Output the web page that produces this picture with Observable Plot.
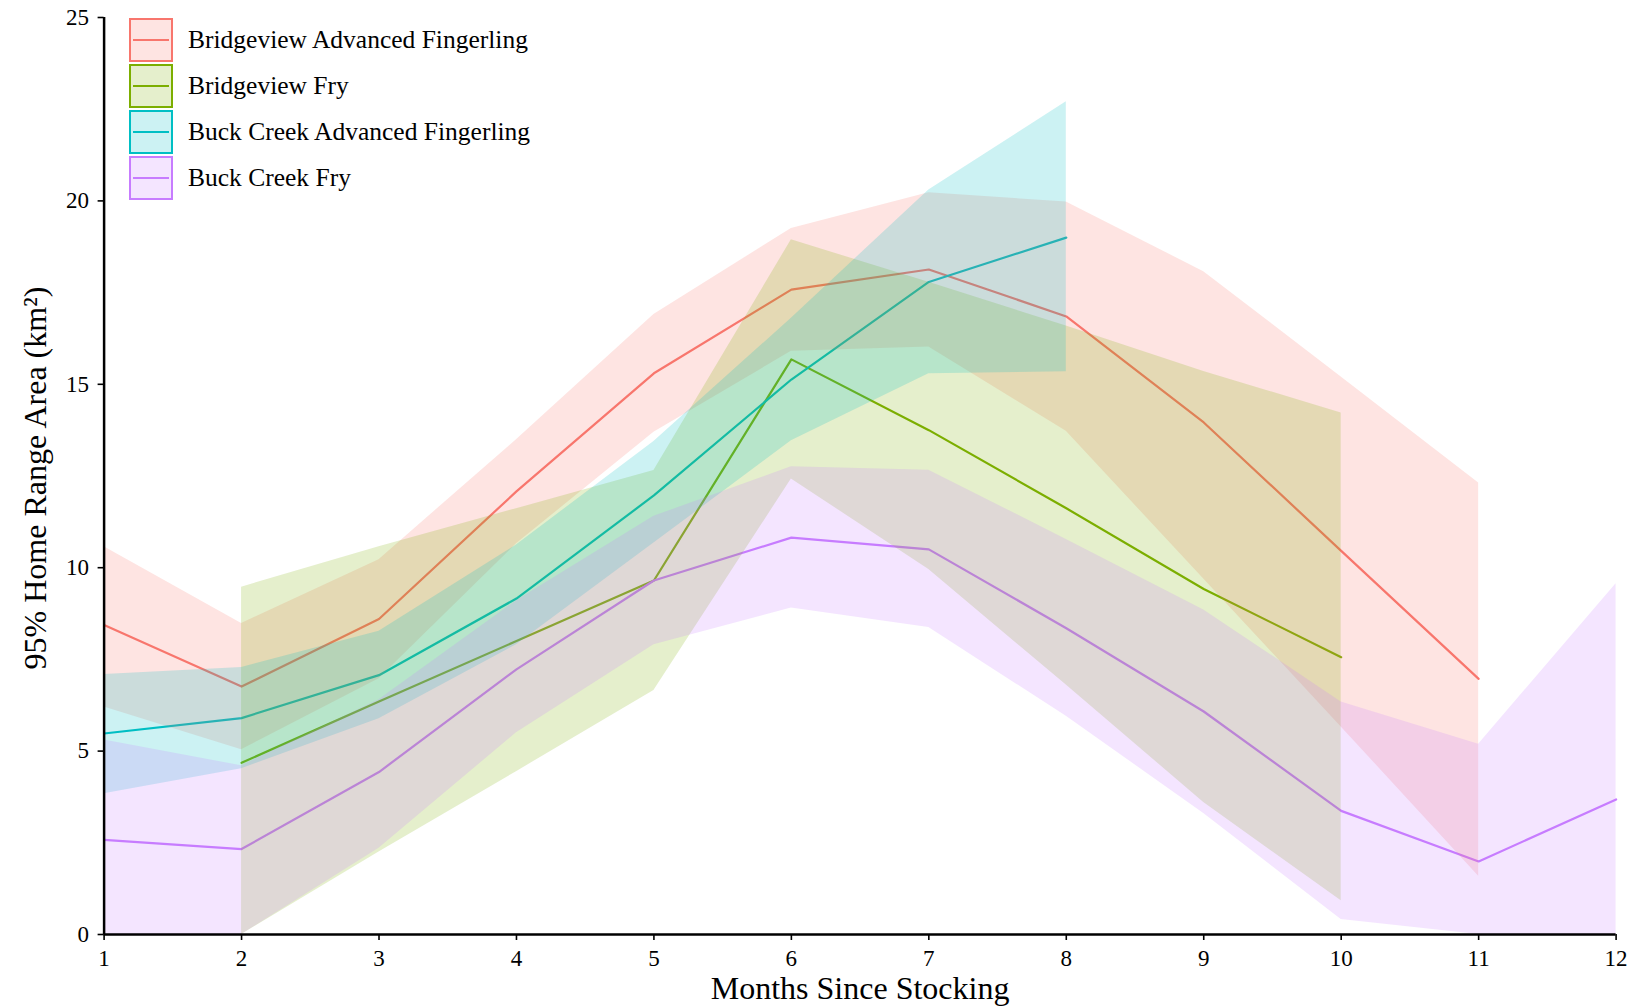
<!DOCTYPE html>
<html><head><meta charset="utf-8">
<script src="https://cdn.jsdelivr.net/npm/d3@7"></script>
<script src="https://cdn.jsdelivr.net/npm/@observablehq/plot@0.6"></script>
<style>
html,body{margin:0;padding:0;background:#fff;overflow:hidden}
#wrap{position:relative;width:1634px;height:1008px}
.legend{position:absolute;left:129px;top:18px;font-family:'Liberation Serif','Times New Roman',serif;font-size:25.5px;color:#000}
.item{display:flex;align-items:center;height:44px;margin-bottom:2px}
.key{position:relative;width:40px;height:40px;border:2px solid;box-sizing:content-box;flex:none}
.key .ln{position:absolute;left:2px;right:2px;top:19px;height:2px}
.lab{margin-left:15px;white-space:nowrap}
</style></head>
<body><div id="wrap"><div id="chart"></div><div class="legend" id="legend"></div></div>
<script>
const months = [1,2,3,4,5,6,7,8,9,10,11,12];
const seriesNames = ["Bridgeview Advanced Fingerling","Bridgeview Fry","Buck Creek Advanced Fingerling","Buck Creek Fry"];
const seriesColors = ["#F8766D","#7CAE00","#00BFC4","#C77CFF"];
const yTicks = [0,5,10,15,20,25];
const xTitle = "Months Since Stocking";
const yTitle = "95% Home Range Area (km²)";

// Bridgeview Advanced Fingerling
const bafMean = [8.44,6.76,8.6,12.08,15.3,17.58,18.13,16.85,13.96,10.46,6.97,null];
const bafLow  = [6.2,5.04,6.97,10.65,13.69,15.9,16.02,13.72,9.69,5.66,1.59,null];
const bafHigh = [10.57,8.48,10.22,13.49,16.9,19.25,20.22,19.97,18.07,15.2,12.31,null];
// Bridgeview Fry
const bfMean = [null,4.68,6.35,8.0,9.65,15.68,13.75,11.62,9.42,7.56,null,null];
const bfLow  = [null,0,2.25,4.44,6.65,12.42,9.95,6.8,3.6,0.92,null,null];
const bfHigh = [null,9.47,10.57,11.61,12.65,18.94,17.78,16.59,15.35,14.22,null,null];
// Buck Creek Advanced Fingerling
const bcaMean = [5.48,5.9,7.07,9.16,11.97,15.13,17.79,19.0,null,null,null,null];
const bcaLow  = [3.84,4.52,5.88,7.9,10.67,13.46,15.29,15.34,null,null,null,null];
const bcaHigh = [7.09,7.28,8.27,10.62,13.44,16.8,20.3,22.7,null,null,null,null];
// Buck Creek Fry
const bcfMean = [2.58,2.33,4.43,7.23,9.65,10.82,10.5,8.35,6.08,3.37,1.99,3.68];
const bcfLow  = [0,0,2.35,5.5,7.9,8.9,8.37,5.95,3.3,0.41,0,0];
const bcfHigh = [5.3,4.6,6.4,9.1,11.4,12.75,12.66,10.77,8.85,6.34,5.19,9.56];

const sets = [[bafMean,bafLow,bafHigh],[bfMean,bfLow,bfHigh],[bcaMean,bcaLow,bcaHigh],[bcfMean,bcfLow,bcfHigh]];
const rows = [];
sets.forEach((s,k)=>{
  months.forEach((m,i)=>{
    if (s[0][i] != null) rows.push({series: seriesNames[k], month: m, mean: s[0][i], low: s[1][i], high: s[2][i]});
  });
});

const font = "'Liberation Serif','Times New Roman',serif";
const chart = Plot.plot({
  width: 1634, height: 1008,
  marginLeft: 103.6, marginRight: 18.4, marginTop: 17, marginBottom: 74,
  style: {fontFamily: font, fontSize: "23px", color: "#000", background: "#fff"},
  x: {domain: [1,12]},
  y: {domain: [0,25]},
  color: {domain: seriesNames, range: seriesColors},
  marks: [
    Plot.lineY(rows, {x: "month", y: "mean", stroke: "series", z: "series", strokeWidth: 2.2}),
    Plot.areaY(rows, {x: "month", y1: "low", y2: "high", fill: "series", z: "series", fillOpacity: 0.2}),
    Plot.axisX({ticks: months, tickFormat: d => String(d), tickSize: 6, tickPadding: 9, fontSize: 23, label: null, strokeWidth: 1.6}),
    Plot.axisY({ticks: yTicks, tickFormat: d => String(d), tickSize: 6, tickPadding: 9, fontSize: 23, label: null, strokeWidth: 1.6}),
    Plot.ruleX([1], {stroke: "#000", strokeWidth: 2.5}),
    Plot.ruleY([0], {stroke: "#000", strokeWidth: 2.5}),
    Plot.text([xTitle], {frameAnchor: "bottom", textAnchor: "middle", dy: 64, fontSize: 32, fill: "#000"}),
    Plot.text([yTitle], {frameAnchor: "left", textAnchor: "middle", rotate: -90, dx: -68, dy: 2, fontSize: 32, fill: "#000"})
  ]
});
document.getElementById("chart").appendChild(chart);

const leg = document.getElementById("legend");
seriesNames.forEach((n,i)=>{
  const c = d3.color(seriesColors[i]);
  const f = d3.color(seriesColors[i]); f.opacity = 0.2;
  const item = document.createElement("div"); item.className = "item";
  const key = document.createElement("div"); key.className = "key";
  key.style.borderColor = c.formatHex(); key.style.background = f.formatRgb();
  const ln = document.createElement("div"); ln.className = "ln"; ln.style.background = c.formatHex();
  key.appendChild(ln);
  const lab = document.createElement("span"); lab.className = "lab"; lab.textContent = n;
  item.appendChild(key); item.appendChild(lab); leg.appendChild(item);
});
</script>
</body></html>
